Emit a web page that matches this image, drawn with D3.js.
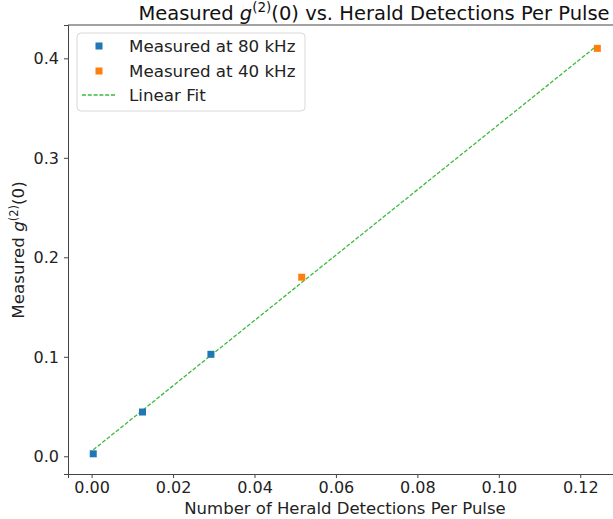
<!DOCTYPE html>
<html>
<head>
<meta charset="utf-8">
<script src="https://cdn.jsdelivr.net/npm/d3@7"></script>
<style>
  html, body { margin: 0; padding: 0; background: #fff; }
  svg { display: block; font-family: "DejaVu Sans", sans-serif; }
</style>
</head>
<body>
<svg id="chart" width="613" height="519"></svg>
<script>
// Herald detections per pulse vs. measured g2(0)
const x80 = [0.0004, 0.0125, 0.0293];
const y80 = [0.0025, 0.0445, 0.1025];
const x40 = [0.0516, 0.1242];
const y40 = [0.180, 0.410];
// Linear fit endpoints
const fitX = [0.0004, 0.1242];
const fitY = [0.0065, 0.413];
const xTicks = [0.00, 0.02, 0.04, 0.06, 0.08, 0.10, 0.12];
const yTicks = [0.0, 0.1, 0.2, 0.3, 0.4];
const legendLabels = ["Measured at 80 kHz", "Measured at 40 kHz", "Linear Fit"];

const colors = { c80: "#1f77b4", c40: "#ff7f0e", fit: "#3dba3d" };

const svg = d3.select("#chart");
const m = { left: 68, top: 25, right: 623, bottom: 474 };

const x = d3.scaleLinear().domain([-0.0058, 0.1305]).range([m.left, m.right]);
const y = d3.scaleLinear().domain([-0.0178, 0.4335]).range([m.bottom, m.top]);

// axes
const xAxis = svg.append("g")
  .attr("transform", `translate(0,${m.bottom})`)
  .call(d3.axisBottom(x).tickValues(xTicks).tickFormat(d3.format(".2f")).tickSizeOuter(0).tickSize(4).tickPadding(4));
const yAxis = svg.append("g")
  .attr("transform", `translate(${m.left},0)`)
  .call(d3.axisLeft(y).tickValues(yTicks).tickFormat(d3.format(".1f")).tickSizeOuter(0).tickSize(4).tickPadding(5));
[xAxis, yAxis].forEach(a => {
  a.selectAll("text").attr("font-size", 16).attr("fill", "#222").attr("font-family", "DejaVu Sans");
  a.selectAll("line").attr("stroke", "#444");
  a.select(".domain").attr("stroke", "#444");
});
xAxis.selectAll("text").attr("dy", "0.71em");
yAxis.selectAll("text").attr("dy", "0.35em");

// top spine (right spine lies beyond the canvas)
svg.append("line").attr("x1", m.left).attr("x2", m.right).attr("y1", m.top).attr("y2", m.top)
  .attr("stroke", "#444");

// fit line
svg.append("line")
  .attr("x1", x(fitX[0])).attr("y1", y(fitY[0]))
  .attr("x2", x(fitX[1])).attr("y2", y(fitY[1]))
  .attr("stroke", colors.fit).attr("stroke-width", 1.3).attr("stroke-dasharray", "4,1.8");

const ms = 7;
function squares(xs, ys, c) {
  svg.append("g").selectAll("rect").data(xs.map((v, i) => [v, ys[i]])).join("rect")
    .attr("x", d => x(d[0]) - ms / 2).attr("y", d => y(d[1]) - ms / 2)
    .attr("width", ms).attr("height", ms).attr("fill", c);
}
squares(x80, y80, colors.c80);
squares(x40, y40, colors.c40);

// title
const title = svg.append("text").attr("x", 374).attr("y", 20).attr("text-anchor", "middle")
  .attr("font-size", 19.5).attr("fill", "#111");
title.append("tspan").text("Measured ");
title.append("tspan").attr("font-style", "italic").text("g");
title.append("tspan").attr("font-size", 13.5).attr("dy", -8).text("(2)");
title.append("tspan").attr("dy", 8).text("(0) vs. Herald Detections Per Pulse");

// axis labels
svg.append("text").attr("x", 345).attr("y", 514).attr("text-anchor", "middle")
  .attr("font-size", 16.5).attr("fill", "#222").text("Number of Herald Detections Per Pulse");
const yl = svg.append("text").attr("transform", "translate(24,250) rotate(-90)")
  .attr("text-anchor", "middle").attr("font-size", 16.7).attr("fill", "#222");
yl.append("tspan").text("Measured ");
yl.append("tspan").attr("font-style", "italic").text("g");
yl.append("tspan").attr("font-size", 11.5).attr("dy", -6).text("(2)");
yl.append("tspan").attr("dy", 6).text("(0)");

// legend
const lg = svg.append("g");
lg.append("rect").attr("x", 77).attr("y", 33).attr("width", 228).attr("height", 78)
  .attr("rx", 4).attr("fill", "#fff").attr("fill-opacity", 0.8).attr("stroke", "#d8d8d8");
const rowY = [46, 71, 95];
lg.append("rect").attr("x", 99 - 3.5).attr("y", rowY[0] - 3.5).attr("width", 7).attr("height", 7).attr("fill", colors.c80);
lg.append("rect").attr("x", 99 - 3.5).attr("y", rowY[1] - 3.5).attr("width", 7).attr("height", 7).attr("fill", colors.c40);
lg.append("line").attr("x1", 82).attr("x2", 115).attr("y1", rowY[2]).attr("y2", rowY[2])
  .attr("stroke", colors.fit).attr("stroke-width", 1.3).attr("stroke-dasharray", "4,1.8");
legendLabels.forEach((t, i) => {
  lg.append("text").attr("x", 129).attr("y", rowY[i]).attr("dy", "0.35em")
    .attr("font-size", 16.7).attr("fill", "#222").text(t);
});
</script>
</body>
</html>
